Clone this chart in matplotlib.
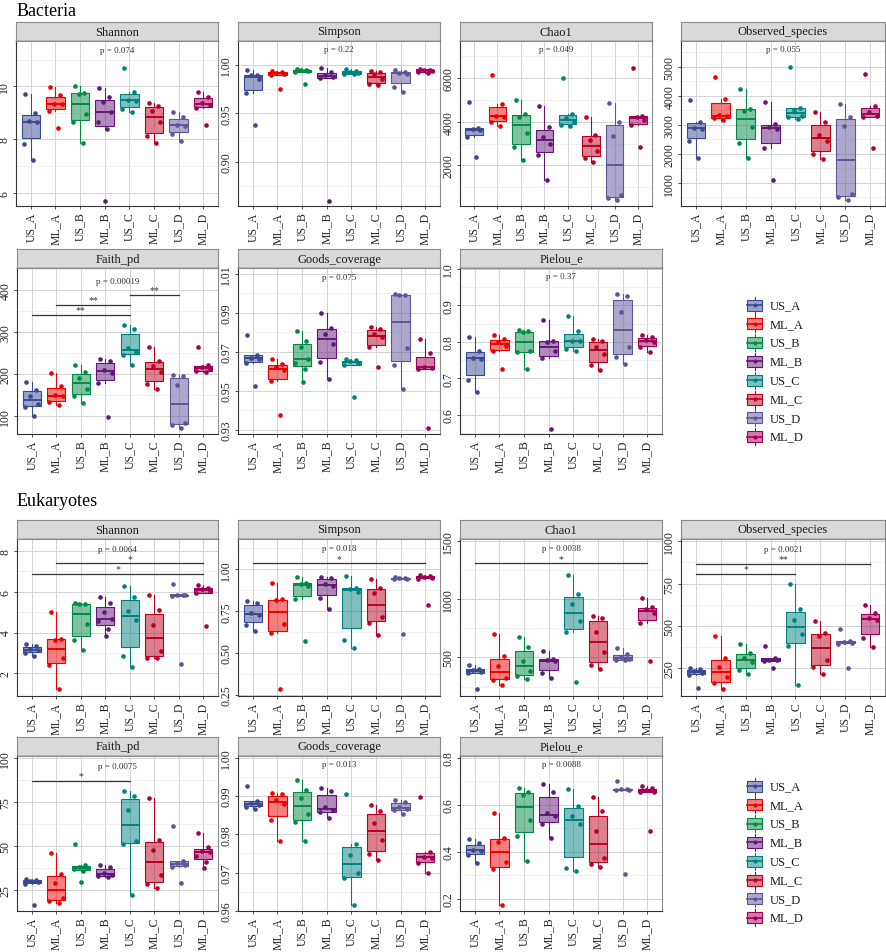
import numpy as np
import matplotlib
matplotlib.use("Agg")
import matplotlib.pyplot as plt
from matplotlib.colors import to_rgba
from matplotlib.patches import Rectangle

plt.rcParams['font.family'] = ['Liberation Serif', 'DejaVu Serif']

groups = ['US_A', 'ML_A', 'US_B', 'ML_B', 'US_C', 'ML_C', 'US_D', 'ML_D']
colors = ["#3B4992", "#EE0000", "#008B45", "#631879",
          "#008280", "#BB0021", "#5F559B", "#A20056"]

# ---- Bacteria (one list of samples per group) ----
bac_shannon = [
    [9.69, 9.00, 8.69, 8.66, 7.84, 7.21],
    [9.97, 9.66, 9.34, 9.34, 9.06, 8.44],
    [10.02, 9.75, 9.72, 8.94, 8.65, 7.87],
    [9.94, 9.60, 9.40, 9.05, 8.64, 8.40, 5.69],
    [10.69, 9.78, 9.50, 9.44, 9.13, 9.03],
    [9.38, 9.25, 9.06, 8.65, 8.12, 7.85],
    [9.04, 8.85, 8.55, 8.52, 8.19, 7.94],
    [9.78, 9.60, 9.38, 9.31, 9.19, 8.56],
]
bac_simpson = [
    [0.9945, 0.9897, 0.989, 0.985, 0.9704, 0.9378],
    [0.9938, 0.9925, 0.9915, 0.9905, 0.9895, 0.9746],
    [0.9952, 0.9945, 0.994, 0.9935, 0.9925, 0.9801],
    [0.997, 0.9925, 0.9895, 0.9875, 0.986, 0.8595],
    [0.996, 0.9935, 0.992, 0.991, 0.9905, 0.990],
    [0.9935, 0.9924, 0.990, 0.985, 0.9797, 0.9787],
    [0.9942, 0.9925, 0.9915, 0.9905, 0.9773, 0.9718],
    [0.9955, 0.9948, 0.9942, 0.9938, 0.9925, 0.9918],
]
bac_chao1 = [
    [4900, 3700, 3650, 3600, 3300, 2400],
    [6150, 4800, 4270, 4200, 4000, 3820],
    [4985, 4350, 4200, 3485, 2830, 2270],
    [4730, 3750, 3300, 3000, 2485, 1320],
    [5970, 4350, 4150, 3970, 3850, 3820],
    [4200, 3400, 3140, 2680, 2330, 2150],
    [4830, 4000, 3360, 640, 515, 410],
    [6470, 4270, 4200, 4090, 3850, 2860],
]
bac_observed = [
    [3860, 3100, 2900, 2850, 2450, 1850],
    [4630, 3880, 3330, 3290, 3220, 3170],
    [4220, 3540, 3480, 2910, 2370, 1850],
    [3790, 3020, 2910, 2850, 2190, 1080],
    [4970, 3590, 3510, 3310, 3250, 3190],
    [3420, 3100, 2650, 2450, 1990, 1820],
    [3710, 3250, 2970, 620, 510, 390],
    [4740, 3630, 3420, 3290, 3250, 2190],
]
bac_faith = [
    [180, 162, 147, 128, 120, 100],
    [202, 170, 150, 146, 132, 126],
    [222, 204, 190, 164, 148, 130],
    [236, 230, 210, 202, 178, 97],
    [316, 306, 262, 252, 245, 222],
    [265, 230, 218, 205, 176, 164],
    [198, 194, 174, 82, 78, 70],
    [265, 220, 216, 212, 206, 204],
]
bac_goods = [
    [0.9788, 0.9685, 0.967, 0.9665, 0.9641, 0.9526],
    [0.9663, 0.9637, 0.962, 0.9605, 0.9548, 0.9377],
    [0.9804, 0.9754, 0.9723, 0.9663, 0.964, 0.9612, 0.9543],
    [0.990, 0.9822, 0.9792, 0.974, 0.9646, 0.956],
    [0.9663, 0.9655, 0.9651, 0.964, 0.963, 0.947],
    [0.9829, 0.9817, 0.979, 0.9775, 0.9723, 0.962],
    [0.9994, 0.9992, 0.9989, 0.972, 0.963, 0.9509],
    [0.9766, 0.9692, 0.9624, 0.9617, 0.9612, 0.9309],
]
bac_pielou = [
    [0.8124, 0.7756, 0.757, 0.7525, 0.6945, 0.6631],
    [0.8198, 0.8078, 0.7986, 0.7894, 0.7756, 0.7249],
    [0.8327, 0.829, 0.826, 0.7756, 0.771, 0.7249],
    [0.8604, 0.8032, 0.7986, 0.7737, 0.7571, 0.5618],
    [0.8724, 0.829, 0.8032, 0.803, 0.780, 0.7737],
    [0.8078, 0.8032, 0.787, 0.768, 0.7369, 0.7221],
    [0.9304, 0.9249, 0.8816, 0.7848, 0.759, 0.7387],
    [0.8198, 0.8124, 0.805, 0.7986, 0.7848, 0.771],
]

# ---- Eukaryotes ----
euk_shannon = [
    [3.46, 3.33, 3.2, 3.13, 3.0, 2.87],
    [5.0, 3.69, 3.66, 2.75, 2.43, 1.23],
    [5.43, 5.38, 5.38, 4.44, 3.66, 3.13],
    [5.75, 5.45, 5.0, 4.64, 4.55, 4.18, 3.85],
    [6.25, 5.75, 5.05, 4.61, 2.87, 2.31],
    [5.82, 5.1, 4.39, 3.08, 2.75, 2.75],
    [6.36, 5.84, 5.82, 5.82, 5.8, 2.48],
    [6.31, 6.2, 6.11, 6.03, 5.92, 4.31],
]
euk_simpson = [
    [0.81, 0.80, 0.74, 0.724, 0.67, 0.63],
    [0.916, 0.82, 0.814, 0.676, 0.62, 0.284],
    [0.956, 0.92, 0.91, 0.90, 0.824, 0.574],
    [0.956, 0.95, 0.91, 0.90, 0.83, 0.76],
    [0.96, 0.89, 0.884, 0.864, 0.576, 0.53],
    [0.94, 0.89, 0.86, 0.716, 0.68, 0.606],
    [0.956, 0.948, 0.945, 0.943, 0.94, 0.616],
    [0.964, 0.96, 0.956, 0.95, 0.944, 0.786],
]
euk_chao1 = [
    [437, 400, 390, 375, 365, 227],
    [701, 508, 422, 322, 307, 264],
    [675, 586, 465, 379, 342, 313],
    [552, 488, 480, 465, 365, 322],
    [1204, 1040, 954, 810, 715, 293],
    [853, 839, 715, 543, 437, 399],
    [580, 525, 505, 490, 476, 474],
    [1011, 931, 911, 882, 796, 471],
]
euk_observed = [
    [250, 244, 230, 220, 210, 131],
    [438, 310, 256, 196, 161, 125],
    [393, 339, 310, 284, 240, 216],
    [379, 310, 300, 296, 290, 250],
    [746, 601, 532, 452, 383, 151],
    [528, 458, 442, 296, 256, 216],
    [482, 409, 403, 399, 395, 250],
    [621, 577, 548, 532, 429, 375],
]
euk_faith = [
    [31.6, 31.0, 30.3, 29.5, 28.75, 16.6],
    [46.0, 34.4, 29.1, 20.9, 19.0, 17.9],
    [51.25, 39.1, 38.5, 37.75, 37.2, 36.25, 29.7],
    [39.1, 38.1, 34.75, 34.0, 32.9, 32.5],
    [80.9, 78.4, 70.4, 53.1, 51.25, 22.2],
    [77.1, 53.5, 47.9, 34.0, 28.4, 26.5],
    [61.6, 41.9, 40.4, 39.1, 38.5, 29.1],
    [57.25, 49.75, 47.5, 46.6, 44.7, 40.9, 37.75],
]
euk_goods = [
    [0.9927, 0.9888, 0.9882, 0.9876, 0.9872, 0.9866],
    [0.9908, 0.9904, 0.989, 0.988, 0.9838, 0.9782],
    [0.9941, 0.9915, 0.9895, 0.9853, 0.9832, 0.9782],
    [0.9921, 0.9912, 0.987, 0.9862, 0.9857, 0.9843],
    [0.9905, 0.9775, 0.9745, 0.9698, 0.9685, 0.9616],
    [0.9875, 0.986, 0.9829, 0.9786, 0.9748, 0.9734],
    [0.9889, 0.9884, 0.987, 0.9866, 0.9862, 0.9853],
    [0.9898, 0.9754, 0.9742, 0.9739, 0.9724, 0.9699],
]
euk_pielou = [
    [0.454, 0.436, 0.408, 0.405, 0.384, 0.351],
    [0.563, 0.458, 0.44, 0.355, 0.327, 0.172],
    [0.67, 0.652, 0.642, 0.535, 0.468, 0.359],
    [0.69, 0.656, 0.563, 0.553, 0.518, 0.458],
    [0.666, 0.595, 0.553, 0.518, 0.331, 0.317],
    [0.633, 0.574, 0.489, 0.374, 0.348, 0.337],
    [0.701, 0.667, 0.665, 0.663, 0.662, 0.306],
    [0.68, 0.67, 0.662, 0.656, 0.652, 0.489],
]

metric_names = ['Shannon', 'Simpson', 'Chao1', 'Observed_species',
                'Faith_pd', 'Goods_coverage', 'Pielou_e']
bac_pvalues = ['p = 0.074', 'p = 0.22', 'p = 0.049', 'p = 0.055',
               'p = 0.00019', 'p = 0.075', 'p = 0.37']
euk_pvalues = ['p = 0.0064', 'p = 0.018', 'p = 0.0038', 'p = 0.0021',
               'p = 0.0075', 'p = 0.013', 'p = 0.0088']

bac_ticks = [
    ([6, 8, 10], ['6', '8', '10']),
    ([0.90, 0.95, 1.00], ['0.90', '0.95', '1.00']),
    ([2000, 4000, 6000], ['2000', '4000', '6000']),
    ([1000, 2000, 3000, 4000, 5000], ['1000', '2000', '3000', '4000', '5000']),
    ([100, 200, 300, 400], ['100', '200', '300', '400']),
    ([0.93, 0.95, 0.97, 0.99, 1.01], ['0.93', '0.95', '0.97', '0.99', '1.01']),
    ([0.6, 0.7, 0.8, 0.9, 1.0], ['0.6', '0.7', '0.8', '0.9', '1.0']),
]
euk_ticks = [
    ([2, 4, 6, 8], ['2', '4', '6', '8']),
    ([0.25, 0.50, 0.75, 1.00], ['0.25', '0.50', '0.75', '1.00']),
    ([500, 1000, 1500], ['500', '1000', '1500']),
    ([250, 500, 750, 1000], ['250', '500', '750', '1000']),
    ([25, 50, 75, 100], ['25', '50', '75', '100']),
    ([0.96, 0.97, 0.98, 0.99, 1.00], ['0.96', '0.97', '0.98', '0.99', '1.00']),
    ([0.2, 0.4, 0.6, 0.8], ['0.2', '0.4', '0.6', '0.8']),
]

# pairwise comparisons: (group i, group j, label) - 1-based group index
bac_signif = [[], [], [], [], [(5, 7, '**'), (2, 5, '**'), (1, 5, '**')], [], []]
euk_signif = [[(2, 8, '*'), (1, 8, '*')], [(1, 8, '*')], [(1, 8, '*')],
              [(1, 8, '**'), (1, 5, '*')], [(1, 5, '*')], [], []]

# ---- layout (pixels) ----
W, H = 886, 953
STRIP = 19
bac_boxes = [(16, 42, 218, 207), (238, 42, 440, 207), (460, 42, 652, 207),
             (681, 42, 885, 207), (17, 269, 218, 435), (238, 269, 440, 435),
             (460, 269, 662, 435)]
euk_boxes = [(17, 540, 218, 697), (238, 540, 440, 697), (460, 540, 662, 697),
             (681, 540, 885, 697), (17, 757, 218, 912), (238, 757, 440, 912),
             (460, 757, 662, 912)]
bac_ylims = [(5.5, 11.7), (0.8543, 1.0244), (150, 7680), (200, 5880),
             (56, 453), (0.9278, 1.0129), (0.547, 1.003)]
euk_ylims = [(0.9, 8.57), (0.244, 1.18), (169, 1514), (85, 1014),
             (13.4, 100.9), (0.9601, 1.0004), (0.148, 0.807)]
bac_p_y = [11.375, 1.0158, 7303, 5594, 421.6, 1.0083, 0.981]
euk_p_y = [8.08, 1.124, 1434, 954, 95.3, 0.99844, 0.775]
bac_signif_y = [[], [], [], [], [389.6, 365.6, 340.8], [], []]
euk_signif_y = [[7.38, 6.85], [1.034], [1305], [869, 806], [86.9], [], []]

JIT = [-0.22, 0.18, -0.06, 0.26, -0.28, 0.1, 0.02]

fig = plt.figure(figsize=(W / 100, H / 100), dpi=100)


def px_axes(x0, y0, x1, y1):
    return fig.add_axes([x0 / W, 1 - y1 / H, (x1 - x0) / W, (y1 - y0) / H])


def draw_panel(box, name, data, ylim, ticks, labels, ptext, p_y, signif, signif_y):
    x0, y0, x1, y1 = box
    st = px_axes(x0, y0 - STRIP, x1, y0)
    st.set_facecolor('#D9D9D9')
    st.set_xticks([])
    st.set_yticks([])
    for s in st.spines.values():
        s.set_color('#8C8C8C')
        s.set_linewidth(0.8)
    st.spines['bottom'].set_color('#333333')
    st.spines['bottom'].set_linewidth(1.0)
    st.text(0.5, 0.5, name, ha='center', va='center', fontsize=9,
            transform=st.transAxes, color='#1A1A1A')

    ax = px_axes(x0, y0, x1, y1)
    ax.set_axisbelow(True)
    pos = np.arange(1, len(groups) + 1)
    bp = ax.boxplot(data, positions=pos, widths=0.75, patch_artist=True,
                    showcaps=False, showfliers=False, whis=1.5, manage_ticks=False)
    for i, c in enumerate(colors):
        bp['boxes'][i].set(facecolor=to_rgba(c, 0.5), edgecolor=c, linewidth=0.8)
        bp['medians'][i].set(color=c, linewidth=1.4)
        for w in bp['whiskers'][2 * i:2 * i + 2]:
            w.set(color=c, linewidth=0.8)
        vals = data[i]
        xs = [pos[i] + JIT[k % len(JIT)] for k in range(len(vals))]
        ax.scatter(xs, vals, s=11, color=c, linewidths=0, zorder=3)

    ax.set_xlim(0.4, 8.6)
    ax.set_ylim(*ylim)
    ax.set_xticks(pos)
    ax.set_xticklabels(groups, rotation=90)
    ax.set_yticks(ticks)
    ax.set_yticklabels(labels, rotation=90, va='center')
    step = ticks[1] - ticks[0]
    minor = [t - step / 2 for t in ticks] + [ticks[-1] + step / 2]
    ax.set_yticks([m for m in minor if ylim[0] < m < ylim[1]], minor=True)
    ax.grid(True, which='major', color='#D3D3D3', linewidth=0.7)
    ax.grid(True, which='minor', axis='y', color='#ECECEC', linewidth=0.5)
    ax.tick_params(which='major', length=2.5, width=0.6, color='#333333',
                   labelsize=8.5, labelcolor='#262626', pad=1.5)
    ax.tick_params(which='minor', length=0)
    for side in ['left', 'bottom']:
        ax.spines[side].set_color('#333333')
        ax.spines[side].set_linewidth(0.8)
    for side in ['top', 'right']:
        ax.spines[side].set_color('#8C8C8C')
        ax.spines[side].set_linewidth(0.8)

    ax.text(4.5, p_y, ptext, ha='center', va='center', fontsize=6.5, color='#333333')
    off = (ylim[1] - ylim[0]) * 0.004
    for (i, j, star), yv in zip(signif, signif_y):
        ax.plot([i, j], [yv, yv], color='#333333', linewidth=0.9, zorder=4)
        ax.text((i + j) / 2, yv + off, star, ha='center', va='bottom',
                fontsize=7, color='#333333')


def draw_legend(top):
    leg = px_axes(740, top - 16, 860, top + 150)
    leg.set_xlim(740, 860)
    leg.set_ylim(top + 150, top - 16)
    leg.axis('off')
    for k, (g, c) in enumerate(zip(groups, colors)):
        cy = top + k * 18.8
        leg.add_patch(Rectangle((747, cy - 5.5), 15, 11, facecolor=to_rgba(c, 0.5),
                                edgecolor=c, linewidth=0.8))
        leg.plot([754.5, 754.5], [cy - 8.5, cy - 5.5], color=c, linewidth=0.8)
        leg.plot([754.5, 754.5], [cy + 5.5, cy + 8.5], color=c, linewidth=0.8)
        leg.plot([747, 762], [cy, cy], color=c, linewidth=1.2)
        leg.scatter([754.5], [cy], s=9, color=c, linewidths=0, zorder=3)
        leg.text(770, cy, g, va='center', ha='left', fontsize=9, color='#1A1A1A')


for k in range(7):
    draw_panel(bac_boxes[k], metric_names[k], [bac_shannon, bac_simpson, bac_chao1,
               bac_observed, bac_faith, bac_goods, bac_pielou][k], bac_ylims[k],
               bac_ticks[k][0], bac_ticks[k][1], bac_pvalues[k], bac_p_y[k],
               bac_signif[k], bac_signif_y[k])
    draw_panel(euk_boxes[k], metric_names[k], [euk_shannon, euk_simpson, euk_chao1,
               euk_observed, euk_faith, euk_goods, euk_pielou][k], euk_ylims[k],
               euk_ticks[k][0], euk_ticks[k][1], euk_pvalues[k], euk_p_y[k],
               euk_signif[k], euk_signif_y[k])

draw_legend(306)
draw_legend(787)

fig.text(17 / W, 1 - 11 / H, 'Bacteria', fontsize=13, ha='left', va='center')
fig.text(17 / W, 1 - 502 / H, 'Eukaryotes', fontsize=13, ha='left', va='center')

fig.savefig('out.png', dpi=100)
